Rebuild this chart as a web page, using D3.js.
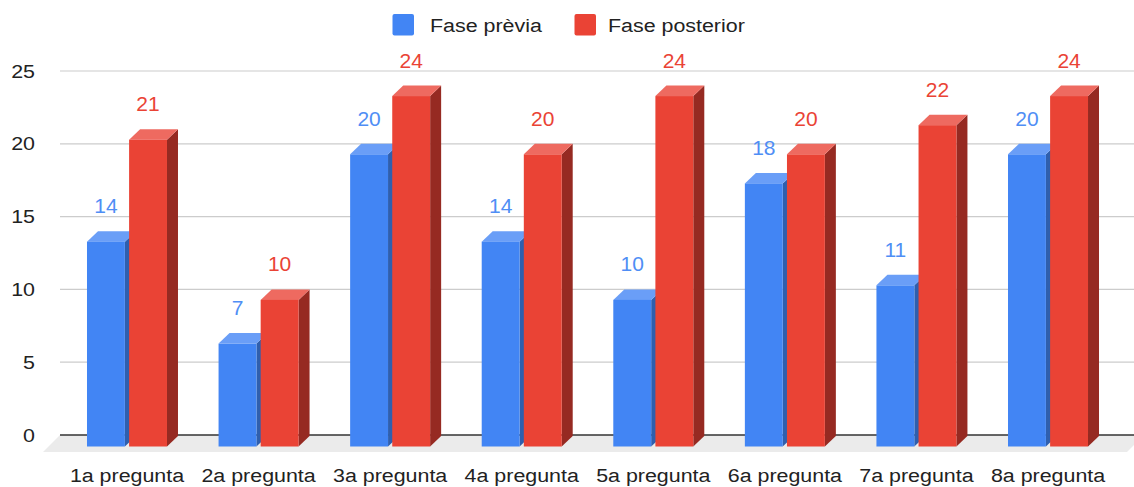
<!DOCTYPE html>
<html>
<head>
<meta charset="utf-8">
<script src="https://cdn.jsdelivr.net/npm/d3@7"></script>
<style>
  html, body { margin: 0; padding: 0; background: #fff; }
  svg { display: block; }
</style>
</head>
<body>
<svg id="chart" width="1134" height="487"></svg>
<script>
// Questionnaire scores per question, before and after
const categories = ["1a pregunta", "2a pregunta", "3a pregunta", "4a pregunta",
                    "5a pregunta", "6a pregunta", "7a pregunta", "8a pregunta"];
const seriesNames = ["Fase prèvia", "Fase posterior"];
const previa = [14, 7, 20, 14, 10, 18, 11, 20];
const posterior = [21, 10, 24, 20, 24, 20, 22, 24];
const yTicks = [0, 5, 10, 15, 20, 25];

const colors = {
  "Fase prèvia":    { front: "#4285f4", top: "#6a9ef7", side: "#2f5fae", label: "#4f8ef5" },
  "Fase posterior": { front: "#ea4335", top: "#ee6a60", side: "#962a22", label: "#ea4335" }
};

const W = 1134, H = 487;
const svg = d3.select("#chart");
const font = "'Liberation Sans', Arial, sans-serif";
const SX = 1.19;   // horizontal text stretch

// 3D extrusion offsets (back plane is up/right of the front plane)
const DX = 11, DY = 10.5;

// Back-wall plane (gridlines)
const wallLeft = 60, wallRight = 1134;
const y = d3.scaleLinear().domain([0, 25]).range([435, 71]);

// Front-plane category bands
const x = d3.scaleBand().domain(categories).range([61.2, 1113.8]).padding(0);
const inner = d3.scaleBand().domain(seriesNames).range([0, 80]).paddingInner(0.1);

function stretchedText(g, tx, ty, str, opts) {
  const t = g.append("text")
    .attr("transform", `translate(${tx},${ty}) scale(${opts.sx || SX},1)`)
    .attr("font-family", font)
    .attr("font-size", opts.size || 18)
    .attr("fill", opts.fill || "#222")
    .attr("text-anchor", opts.anchor || "start")
    .text(str);
  if (opts.baseline) t.attr("dominant-baseline", opts.baseline);
  return t;
}

// Floor
const floorTop = y(0), floorBottom = y(0) + 17;
svg.append("path")
  .attr("d", `M${wallLeft},${floorTop} L${wallRight + 10},${floorTop} L${wallRight - 7},${floorBottom} L${wallLeft - 17},${floorBottom} Z`)
  .attr("fill", "#ebebeb");

// Gridlines
svg.append("g").selectAll("line")
  .data(yTicks.filter(d => d > 0))
  .join("line")
  .attr("x1", wallLeft).attr("x2", wallRight)
  .attr("y1", d => y(d)).attr("y2", d => y(d))
  .attr("stroke", "#cccccc").attr("stroke-width", 1.2);

// Axis baseline
svg.append("line")
  .attr("x1", wallLeft).attr("x2", wallRight)
  .attr("y1", y(0)).attr("y2", y(0))
  .attr("stroke", "#333").attr("stroke-width", 1.5);

// Y tick labels
const yAxisG = svg.append("g");
yTicks.forEach(t => {
  stretchedText(yAxisG, 35, y(t) + 6.5, String(t), { anchor: "end" });
});

// Bars
const barsG = svg.append("g");
const series = [
  { name: "Fase prèvia", values: previa },
  { name: "Fase posterior", values: posterior }
];

categories.forEach((cat, i) => {
  const c = x(cat) + x.bandwidth() / 2;
  series.forEach(s => {
    const v = s.values[i];
    const col = colors[s.name];
    const fx = c - 40 + inner(s.name);
    const w = inner.bandwidth();
    const ft = y(v) + DY;       // front top
    const fb = y(0) + DY + 1;   // front bottom
    const g = barsG.append("g");
    // side face
    g.append("path")
      .attr("d", `M${fx + w},${ft} L${fx + w + DX},${ft - DY} L${fx + w + DX},${fb - DY} L${fx + w},${fb} Z`)
      .attr("fill", col.side);
    // top face
    g.append("path")
      .attr("d", `M${fx},${ft} L${fx + DX},${ft - DY} L${fx + w + DX},${ft - DY} L${fx + w},${ft} Z`)
      .attr("fill", col.top);
    // front face
    g.append("rect")
      .attr("x", fx).attr("y", ft)
      .attr("width", w).attr("height", fb - ft)
      .attr("fill", col.front);
  });
});

// Value labels
const labelsG = svg.append("g");
categories.forEach((cat, i) => {
  const c = x(cat) + x.bandwidth() / 2;
  series.forEach(s => {
    const v = s.values[i];
    const fx = c - 40 + inner(s.name);
    const cx = fx + inner.bandwidth() / 2;
    stretchedText(labelsG, cx, y(v) - 18, String(v),
      { anchor: "middle", size: 20, sx: 1.05, fill: colors[s.name].label });
  });
});

// X category labels
const xAxisG = svg.append("g");
categories.forEach(cat => {
  stretchedText(xAxisG, x(cat) + x.bandwidth() / 2, 481.5, cat, { anchor: "middle" });
});

// Legend
const legend = svg.append("g");
const legendItems = [
  { name: "Fase prèvia", sx: 392.5, tx: 430 },
  { name: "Fase posterior", sx: 574.5, tx: 608 }
];
legendItems.forEach(it => {
  legend.append("rect")
    .attr("x", it.sx).attr("y", 14).attr("width", 21.5).attr("height", 21.5)
    .attr("rx", 2).attr("fill", colors[it.name].front);
  stretchedText(legend, it.tx, 31.5, it.name, {});
});
</script>
</body>
</html>
